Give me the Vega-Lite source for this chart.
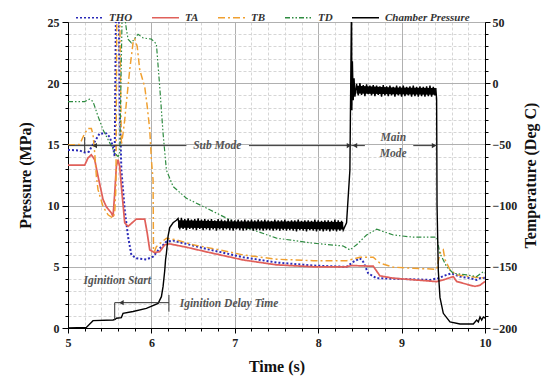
{
  "$schema": "https://vega.github.io/schema/vega-lite/v6.json",
  "width": 417,
  "height": 306,
  "autosize": {"type": "none"},
  "padding": {"left": 68, "top": 22, "right": 65, "bottom": 54},
  "background": "white",
  "config": {
    "font": "Liberation Serif",
    "view": {"stroke": "#000", "strokeWidth": 1},
    "axis": {
      "labelFont": "Liberation Serif", "labelFontWeight": "bold", "labelFontSize": 12, "labelColor": "#222",
      "titleFont": "Liberation Serif", "titleFontWeight": "bold", "titleFontSize": 16, "titleColor": "#111",
      "domainColor": "#000", "tickColor": "#000", "labelFlush": false, "labelOverlap": false
    }
  },
  "datasets": {
    "temps": [
      {"series":"THO","t":5.00,"T":-54.5},{"series":"THO","t":5.14,"T":-55},{"series":"THO","t":5.20,"T":-56.5},{"series":"THO","t":5.25,"T":-56},{"series":"THO","t":5.30,"T":-50},{"series":"THO","t":5.38,"T":-41},{"series":"THO","t":5.46,"T":-41},{"series":"THO","t":5.50,"T":-44},{"series":"THO","t":5.54,"T":-52},{"series":"THO","t":5.56,"T":-60},{"series":"THO","t":5.575,"T":60},{"series":"THO","t":5.61,"T":60},{"series":"THO","t":5.62,"T":-20},{"series":"THO","t":5.64,"T":-71},{"series":"THO","t":5.68,"T":-103.4},{"series":"THO","t":5.72,"T":-125.3},{"series":"THO","t":5.76,"T":-140.3},{"series":"THO","t":5.82,"T":-143},{"series":"THO","t":5.94,"T":-144},{"series":"THO","t":6.02,"T":-141.7},{"series":"THO","t":6.10,"T":-135},{"series":"THO","t":6.18,"T":-129.4},{"series":"THO","t":6.26,"T":-128.6},{"series":"THO","t":6.42,"T":-131.3},{"series":"THO","t":6.70,"T":-136},{"series":"THO","t":7.10,"T":-142.2},{"series":"THO","t":7.50,"T":-146.5},{"series":"THO","t":7.94,"T":-149},{"series":"THO","t":8.34,"T":-150},{"series":"THO","t":8.42,"T":-146},{"series":"THO","t":8.50,"T":-143},{"series":"THO","t":8.54,"T":-146},{"series":"THO","t":8.60,"T":-155.3},{"series":"THO","t":8.70,"T":-159.3},{"series":"THO","t":9.34,"T":-160.7},{"series":"THO","t":9.44,"T":-159.3},{"series":"THO","t":9.54,"T":-156.6},{"series":"THO","t":9.60,"T":-155.3},{"series":"THO","t":9.70,"T":-158},{"series":"THO","t":9.82,"T":-159.3},{"series":"THO","t":9.90,"T":-160.7},{"series":"THO","t":9.94,"T":-159.3},{"series":"THO","t":10.0,"T":-159},
      {"series":"TA","t":5.00,"T":-67},{"series":"TA","t":5.20,"T":-67},{"series":"TA","t":5.24,"T":-61},{"series":"TA","t":5.28,"T":-58.5},{"series":"TA","t":5.32,"T":-62.5},{"series":"TA","t":5.36,"T":-76},{"series":"TA","t":5.42,"T":-95},{"series":"TA","t":5.46,"T":-101},{"series":"TA","t":5.52,"T":-106},{"series":"TA","t":5.54,"T":-109},{"series":"TA","t":5.56,"T":-90},{"series":"TA","t":5.58,"T":-68},{"series":"TA","t":5.60,"T":-62.5},{"series":"TA","t":5.62,"T":-68},{"series":"TA","t":5.64,"T":-84.4},{"series":"TA","t":5.68,"T":-114},{"series":"TA","t":5.72,"T":-117},{"series":"TA","t":5.82,"T":-111},{"series":"TA","t":5.92,"T":-111},{"series":"TA","t":5.95,"T":-122.5},{"series":"TA","t":5.98,"T":-136.2},{"series":"TA","t":6.04,"T":-138.4},{"series":"TA","t":6.10,"T":-137.6},{"series":"TA","t":6.16,"T":-132},{"series":"TA","t":6.22,"T":-131.3},{"series":"TA","t":6.42,"T":-134},{"series":"TA","t":6.70,"T":-138.4},{"series":"TA","t":7.10,"T":-144.4},{"series":"TA","t":7.50,"T":-148.4},{"series":"TA","t":7.94,"T":-150},{"series":"TA","t":8.34,"T":-150},{"series":"TA","t":8.40,"T":-149},{"series":"TA","t":8.66,"T":-149.5},{"series":"TA","t":8.74,"T":-157.4},{"series":"TA","t":8.90,"T":-159.3},{"series":"TA","t":9.42,"T":-162.1},{"series":"TA","t":9.50,"T":-160.7},{"series":"TA","t":9.62,"T":-158},{"series":"TA","t":9.66,"T":-162},{"series":"TA","t":9.82,"T":-165},{"series":"TA","t":9.88,"T":-166},{"series":"TA","t":9.94,"T":-165},{"series":"TA","t":10.0,"T":-162},
      {"series":"TB","t":5.00,"T":-50.5},{"series":"TB","t":5.14,"T":-50},{"series":"TB","t":5.20,"T":-41},{"series":"TB","t":5.24,"T":-37},{"series":"TB","t":5.28,"T":-37},{"series":"TB","t":5.30,"T":-42},{"series":"TB","t":5.32,"T":-57},{"series":"TB","t":5.34,"T":-76},{"series":"TB","t":5.36,"T":-87},{"series":"TB","t":5.42,"T":-100.7},{"series":"TB","t":5.48,"T":-107.5},{"series":"TB","t":5.54,"T":-110.2},{"series":"TB","t":5.56,"T":-106},{"series":"TB","t":5.575,"T":-84},{"series":"TB","t":5.585,"T":60},{"series":"TB","t":5.62,"T":60},{"series":"TB","t":5.64,"T":-50},{"series":"TB","t":5.66,"T":-41},{"series":"TB","t":5.68,"T":-30},{"series":"TB","t":5.70,"T":-16},{"series":"TB","t":5.74,"T":11},{"series":"TB","t":5.78,"T":33},{"series":"TB","t":5.80,"T":36},{"series":"TB","t":5.83,"T":30},{"series":"TB","t":5.86,"T":11},{"series":"TB","t":5.92,"T":-3},{"series":"TB","t":5.95,"T":-19},{"series":"TB","t":5.98,"T":-38},{"series":"TB","t":6.00,"T":-62.5},{"series":"TB","t":6.02,"T":-79},{"series":"TB","t":6.025,"T":-137.6},{"series":"TB","t":6.04,"T":-137},{"series":"TB","t":6.06,"T":-133.5},{"series":"TB","t":6.18,"T":-126.6},{"series":"TB","t":6.30,"T":-128},{"series":"TB","t":6.50,"T":-132},{"series":"TB","t":6.82,"T":-136.2},{"series":"TB","t":7.10,"T":-140.3},{"series":"TB","t":7.50,"T":-143.8},{"series":"TB","t":7.94,"T":-145},{"series":"TB","t":8.34,"T":-145},{"series":"TB","t":8.50,"T":-142.2},{"series":"TB","t":8.66,"T":-142.2},{"series":"TB","t":8.74,"T":-147},{"series":"TB","t":8.90,"T":-150.3},{"series":"TB","t":9.14,"T":-151.2},{"series":"TB","t":9.42,"T":-152},{"series":"TB","t":9.46,"T":-139},{"series":"TB","t":9.50,"T":-136.2},{"series":"TB","t":9.52,"T":-144},{"series":"TB","t":9.58,"T":-152.5},{"series":"TB","t":9.66,"T":-156.6},{"series":"TB","t":9.82,"T":-158},{"series":"TB","t":9.94,"T":-159},{"series":"TB","t":10.0,"T":-159},
      {"series":"TD","t":5.00,"T":-15},{"series":"TD","t":5.20,"T":-15},{"series":"TD","t":5.26,"T":-13},{"series":"TD","t":5.30,"T":-15},{"series":"TD","t":5.36,"T":-27},{"series":"TD","t":5.42,"T":-38},{"series":"TD","t":5.48,"T":-46},{"series":"TD","t":5.54,"T":-54},{"series":"TD","t":5.56,"T":-57},{"series":"TD","t":5.60,"T":-60},{"series":"TD","t":5.62,"T":-58},{"series":"TD","t":5.65,"T":60},{"series":"TD","t":5.67,"T":60},{"series":"TD","t":5.70,"T":44},{"series":"TD","t":5.72,"T":36},{"series":"TD","t":5.76,"T":33},{"series":"TD","t":5.84,"T":40},{"series":"TD","t":5.90,"T":37},{"series":"TD","t":6.00,"T":36},{"series":"TD","t":6.06,"T":32},{"series":"TD","t":6.10,"T":-3},{"series":"TD","t":6.14,"T":-41},{"series":"TD","t":6.18,"T":-71},{"series":"TD","t":6.26,"T":-84.4},{"series":"TD","t":6.42,"T":-94},{"series":"TD","t":6.70,"T":-103.4},{"series":"TD","t":7.10,"T":-117},{"series":"TD","t":7.50,"T":-126.6},{"series":"TD","t":7.94,"T":-130.7},{"series":"TD","t":8.30,"T":-133},{"series":"TD","t":8.38,"T":-136.2},{"series":"TD","t":8.46,"T":-132},{"series":"TD","t":8.58,"T":-124},{"series":"TD","t":8.70,"T":-119.2},{"series":"TD","t":8.90,"T":-124},{"series":"TD","t":9.14,"T":-125.8},{"series":"TD","t":9.42,"T":-125.8},{"series":"TD","t":9.46,"T":-139},{"series":"TD","t":9.54,"T":-150},{"series":"TD","t":9.62,"T":-155.3},{"series":"TD","t":9.78,"T":-156.6},{"series":"TD","t":9.90,"T":-158},{"series":"TD","t":9.98,"T":-154},{"series":"TD","t":10.0,"T":-155}
    ],
    "press": [
      {"t":5.00,"P":0},{"t":5.22,"P":0.05},{"t":5.30,"P":0.6},{"t":5.54,"P":0.65},{"t":5.565,"P":0.7},{"t":5.58,"P":0.8},{"t":5.64,"P":0.85},{"t":5.66,"P":1.2},{"t":5.78,"P":1.35},{"t":5.94,"P":1.6},{"t":6.08,"P":2.0},{"t":6.12,"P":2.56},{"t":6.14,"P":3.4},{"t":6.16,"P":4.7},{"t":6.17,"P":5.6},{"t":6.18,"P":6.1},{"t":6.20,"P":7.5},{"t":6.22,"P":8.2},{"t":6.26,"P":8.6},{"t":6.30,"P":8.8},
      {"t":6.32,"P":8.95},{"t":6.34,"P":8.05},{"t":6.36,"P":9.0},{"t":6.38,"P":8.1},{"t":6.40,"P":8.9},{"t":6.42,"P":8.0},{"t":6.44,"P":8.95},{"t":6.46,"P":8.1},{"t":6.48,"P":8.85},{"t":6.50,"P":8.05},{"t":6.52,"P":8.9},{"t":6.54,"P":8.0},{"t":6.56,"P":8.95},{"t":6.58,"P":8.1},{"t":6.60,"P":8.85},{"t":6.62,"P":8.0},{"t":6.64,"P":8.9},{"t":6.66,"P":8.05},{"t":6.68,"P":8.85},{"t":6.70,"P":8.0},{"t":6.72,"P":8.9},{"t":6.74,"P":8.05},{"t":6.76,"P":8.8},{"t":6.78,"P":7.95},{"t":6.80,"P":8.9},{"t":6.82,"P":8.05},{"t":6.84,"P":8.85},{"t":6.86,"P":8.0},{"t":6.88,"P":8.8},{"t":6.90,"P":8.05},{"t":6.92,"P":8.9},{"t":6.94,"P":8.0},{"t":6.96,"P":8.85},{"t":6.98,"P":7.95},{"t":7.00,"P":8.8},{"t":7.02,"P":8.05},{"t":7.04,"P":8.85},{"t":7.06,"P":8.0},{"t":7.08,"P":8.8},{"t":7.10,"P":7.95},{"t":7.12,"P":8.85},{"t":7.14,"P":8.0},{"t":7.16,"P":8.8},{"t":7.18,"P":8.05},{"t":7.20,"P":8.85},{"t":7.22,"P":7.95},{"t":7.24,"P":8.8},{"t":7.26,"P":8.0},{"t":7.28,"P":8.85},{"t":7.30,"P":8.0},{"t":7.32,"P":8.8},{"t":7.34,"P":7.95},{"t":7.36,"P":8.85},{"t":7.38,"P":8.0},{"t":7.40,"P":8.8},{"t":7.42,"P":8.0},{"t":7.44,"P":8.75},{"t":7.46,"P":7.95},{"t":7.48,"P":8.85},{"t":7.50,"P":8.0},{"t":7.52,"P":8.8},{"t":7.54,"P":7.95},{"t":7.56,"P":8.8},{"t":7.58,"P":8.0},{"t":7.60,"P":8.85},{"t":7.62,"P":7.95},{"t":7.64,"P":8.75},{"t":7.66,"P":8.0},{"t":7.68,"P":8.8},{"t":7.70,"P":7.95},{"t":7.72,"P":8.8},{"t":7.74,"P":7.9},{"t":7.76,"P":8.85},{"t":7.78,"P":8.0},{"t":7.80,"P":8.75},{"t":7.82,"P":7.95},{"t":7.84,"P":8.8},{"t":7.86,"P":7.9},{"t":7.88,"P":8.8},{"t":7.90,"P":8.0},{"t":7.92,"P":8.75},{"t":7.94,"P":7.95},{"t":7.96,"P":8.85},{"t":7.98,"P":7.9},{"t":8.00,"P":8.8},{"t":8.02,"P":7.95},{"t":8.04,"P":8.75},{"t":8.06,"P":7.9},{"t":8.08,"P":8.8},{"t":8.10,"P":7.95},{"t":8.12,"P":8.8},{"t":8.14,"P":7.9},{"t":8.16,"P":8.75},{"t":8.18,"P":7.95},{"t":8.20,"P":8.85},{"t":8.22,"P":7.9},{"t":8.24,"P":8.8},{"t":8.26,"P":7.95},{"t":8.28,"P":8.75},{"t":8.30,"P":8.0},
      {"t":8.34,"P":8.6},{"t":8.38,"P":12.9},{"t":8.40,"P":27},{"t":8.403,"P":17.8},{"t":8.41,"P":21.8},{"t":8.42,"P":18.6},{"t":8.43,"P":20.4},{"t":8.44,"P":18.9},
      {"t":8.46,"P":19.95},{"t":8.48,"P":19.0},{"t":8.50,"P":20.0},{"t":8.52,"P":19.05},{"t":8.54,"P":19.85},{"t":8.56,"P":18.95},{"t":8.58,"P":19.9},{"t":8.60,"P":19.1},{"t":8.62,"P":19.8},{"t":8.64,"P":19.0},{"t":8.66,"P":19.85},{"t":8.68,"P":18.95},{"t":8.70,"P":19.8},{"t":8.72,"P":19.05},{"t":8.74,"P":19.75},{"t":8.76,"P":18.9},{"t":8.78,"P":19.85},{"t":8.80,"P":19.0},{"t":8.82,"P":19.75},{"t":8.84,"P":18.95},{"t":8.86,"P":19.8},{"t":8.88,"P":19.0},{"t":8.90,"P":19.7},{"t":8.92,"P":18.9},{"t":8.94,"P":19.8},{"t":8.96,"P":19.0},{"t":8.98,"P":19.75},{"t":9.00,"P":18.9},{"t":9.02,"P":19.8},{"t":9.04,"P":18.95},{"t":9.06,"P":19.7},{"t":9.08,"P":19.0},{"t":9.10,"P":19.75},{"t":9.12,"P":18.9},{"t":9.14,"P":19.8},{"t":9.16,"P":18.95},{"t":9.18,"P":19.7},{"t":9.20,"P":18.9},{"t":9.22,"P":19.75},{"t":9.24,"P":18.95},{"t":9.26,"P":19.7},{"t":9.28,"P":18.9},{"t":9.30,"P":19.75},{"t":9.32,"P":18.95},{"t":9.34,"P":19.8},{"t":9.36,"P":18.9},{"t":9.38,"P":19.7},{"t":9.40,"P":19.0},{"t":9.41,"P":19.6},{"t":9.42,"P":18.7},
      {"t":9.425,"P":10.0},{"t":9.44,"P":4.7},{"t":9.46,"P":2.5},{"t":9.50,"P":1.2},{"t":9.58,"P":0.5},{"t":9.70,"P":0.33},{"t":9.86,"P":0.33},{"t":9.90,"P":0.65},{"t":9.92,"P":0.5},{"t":9.94,"P":0.9},{"t":9.96,"P":0.65},{"t":9.98,"P":0.9},{"t":10.0,"P":0.8}
    ],
    "bands": [
      {"t":6.32,"lo":8.2,"hi":8.8,"mode":"sub"},{"t":7.00,"lo":8.15,"hi":8.7,"mode":"sub"},{"t":7.60,"lo":8.1,"hi":8.7,"mode":"sub"},{"t":8.30,"lo":8.05,"hi":8.65,"mode":"sub"},
      {"t":8.46,"lo":19.15,"hi":19.8,"mode":"main"},{"t":8.90,"lo":19.1,"hi":19.65,"mode":"main"},{"t":9.40,"lo":19.05,"hi":19.6,"mode":"main"}
    ],
    "annoLines": [
      {"t":5.0,"t2":6.42,"P":14.9,"P2":14.9},
      {"t":7.17,"t2":8.40,"P":14.9,"P2":14.9},
      {"t":8.40,"t2":8.56,"P":14.9,"P2":14.9},
      {"t":9.14,"t2":9.42,"P":14.9,"P2":14.9},
      {"t":5.2,"t2":5.2,"P":14.4,"P2":15.6},
      {"t":5.56,"t2":5.56,"P":0.65,"P2":2.07},
      {"t":5.56,"t2":6.21,"P":2.07,"P2":2.07},
      {"t":6.21,"t2":6.21,"P":1.33,"P2":2.7}
    ],
    "arrows": [
      {"t":8.37,"P":14.9,"dir":"R"},
      {"t":8.44,"P":14.9,"dir":"L"},
      {"t":9.39,"P":14.9,"dir":"R"},
      {"t":5.32,"P":14.9,"dir":"L"},
      {"t":5.64,"P":2.07,"dir":"L"}
    ],
    "texts": [
      {"t":6.79,"P":14.9,"label":"Sub Mode"},
      {"t":8.90,"P":15.52,"label":"Main"},
      {"t":8.90,"P":14.24,"label":"Mode"},
      {"t":5.59,"P":3.8,"label":"Iginition Start"},
      {"t":6.93,"P":1.94,"label":"Iginition Delay Time"}
    ]
  },
  "encoding": {
    "x": {
      "field": "t", "type": "quantitative",
      "scale": {"domain": [5, 10], "nice": false, "zero": false},
      "axis": {
        "title": "Time (s)",
        "values": [5,5.2,5.4,5.6,5.8,6,6.2,6.4,6.6,6.8,7,7.2,7.4,7.6,7.8,8,8.2,8.4,8.6,8.8,9,9.2,9.4,9.6,9.8,10],
        "labelExpr": "abs(datum.value - round(datum.value)) < 0.001 ? format(datum.value, 'd') : ''",
        "grid": true,
        "gridColor": {"condition": {"test": "abs(datum.value - round(datum.value)) > 0.001", "value": "#d6d6d6"}, "value": "#b0b0b0"},
        "gridDash": {"condition": {"test": "abs(datum.value - round(datum.value)) > 0.001", "value": [3, 2]}, "value": []},
        "tickSize": {"condition": {"test": "abs(datum.value - round(datum.value)) > 0.001", "value": 3}, "value": 5},
        "labelPadding": 4,
        "titlePadding": 10
      }
    }
  },
  "layer": [
    {
      "data": {"name": "temps"},
      "mark": {"type": "line", "clip": true},
      "encoding": {
        "y": {
          "field": "T", "type": "quantitative",
          "scale": {"domain": [-200, 50], "nice": false, "zero": false},
          "axis": {
            "orient": "right",
            "title": "Temperature (Deg C)",
            "titleAngle": 270,
            "values": [-200,-190,-180,-170,-160,-150,-140,-130,-120,-110,-100,-90,-80,-70,-60,-50,-40,-30,-20,-10,0,10,20,30,40,50],
            "labelExpr": "datum.value % 50 === 0 ? datum.label : ''",
            "grid": false,
            "tickSize": {"condition": {"test": "datum.value % 50 !== 0", "value": 3}, "value": 5},
            "labelPadding": 2,
            "titlePadding": 22
          }
        },
        "color": {
          "field": "series", "type": "nominal",
          "scale": {"domain": ["THO", "TA", "TB", "TD", "Chamber Pressure"], "range": ["#2a2ab8", "#e0605a", "#f0a030", "#2e8b40", "#000000"]},
          "legend": {
            "title": null, "orient": "none", "legendX": 7, "legendY": -19, "direction": "horizontal",
            "symbolType": "stroke", "symbolSize": 729, "symbolStrokeWidth": 1.5,
            "labelFont": "Liberation Serif", "labelFontStyle": "italic", "labelFontWeight": "bold", "labelFontSize": 11, "labelColor": "#333",
            "labelOffset": 5, "columnPadding": 16,
            "labelExpr": "datum.label == 'TD' ? 'TD          ' : datum.label"
          }
        },
        "strokeDash": {
          "field": "series", "type": "nominal",
          "scale": {"domain": ["THO", "TA", "TB", "TD", "Chamber Pressure"], "range": [[2, 2], [1, 0], [7, 3, 2, 3], [5, 2, 1.5, 2, 1.5, 2], [1, 0]]},
          "legend": {
            "title": null, "orient": "none", "legendX": 7, "legendY": -19, "direction": "horizontal",
            "symbolType": "stroke", "symbolSize": 729, "symbolStrokeWidth": 1.5,
            "labelFont": "Liberation Serif", "labelFontStyle": "italic", "labelFontWeight": "bold", "labelFontSize": 11, "labelColor": "#333",
            "labelOffset": 5, "columnPadding": 16,
            "labelExpr": "datum.label == 'TD' ? 'TD          ' : datum.label"
          }
        },
        "strokeWidth": {
          "field": "series", "type": "nominal",
          "scale": {"domain": ["THO", "TA", "TB", "TD"], "range": [2, 1.2, 1.6, 1.6]},
          "legend": null
        }
      }
    },
    {
      "encoding": {
        "y": {
          "field": "P", "type": "quantitative",
          "scale": {"domain": [0, 25], "nice": false, "zero": false},
          "axis": {
            "orient": "left",
            "title": "Pressure (MPa)",
            "values": [0,1,2,3,4,5,6,7,8,9,10,11,12,13,14,15,16,17,18,19,20,21,22,23,24,25],
            "labelExpr": "datum.value % 5 === 0 ? datum.label : ''",
            "grid": true,
            "gridColor": {"condition": {"test": "datum.value % 5 !== 0", "value": "#d6d6d6"}, "value": "#b0b0b0"},
            "gridDash": {"condition": {"test": "datum.value % 5 !== 0", "value": [3, 2]}, "value": []},
            "tickSize": {"condition": {"test": "datum.value % 5 !== 0", "value": 3}, "value": 6},
            "labelPadding": 3,
            "titlePadding": 14
          }
        }
      },
      "layer": [
        {"data": {"name": "bands"}, "mark": {"type": "area", "color": "#000", "opacity": 1},
         "encoding": {"y": {"field": "lo", "type": "quantitative"}, "y2": {"field": "hi"}, "detail": {"field": "mode", "type": "nominal"}}},
        {"data": {"name": "press"}, "mark": {"type": "line", "color": "#000", "strokeWidth": 1.4, "clip": true}},
        {"data": {"name": "annoLines"}, "mark": {"type": "rule", "color": "#333", "strokeWidth": 1}, "encoding": {"x2": {"field": "t2"}, "y2": {"field": "P2"}}},
        {"data": {"name": "arrows"}, "mark": {"type": "point", "filled": true, "color": "#333", "size": 28, "opacity": 1},
         "encoding": {"shape": {"field": "dir", "type": "nominal", "scale": {"domain": ["L", "R"], "range": ["triangle-left", "triangle-right"]}, "legend": null}}},
        {"data": {"name": "texts"}, "mark": {"type": "text", "font": "Liberation Serif", "fontStyle": "italic", "fontWeight": "bold", "color": "#555", "fontSize": 11.5},
         "encoding": {"text": {"field": "label", "type": "nominal"}}}
      ]
    }
  ],
  "resolve": {"scale": {"y": "independent"}}
}
